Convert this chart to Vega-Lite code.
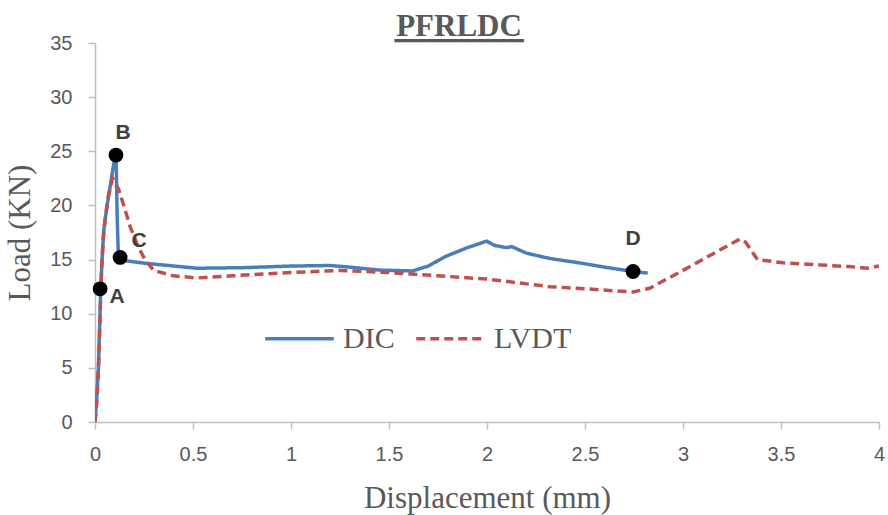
{
  "$schema": "https://vega.github.io/schema/vega-lite/v6.json",
  "autosize": {"type": "none"},
  "padding": {"left": 95, "top": 43, "right": 9, "bottom": 93},
  "width": 784,
  "height": 379,
  "background": "white",
  "title": {
    "text": "PFRLDC",
    "subtitle": "▁▁▁▁▁▁▁▁",
    "font": "Liberation Serif",
    "fontSize": 31,
    "fontWeight": "bold",
    "color": "#595959",
    "subtitleFont": "DejaVu Sans",
    "subtitleFontSize": 21,
    "subtitleColor": "#595959",
    "subtitlePadding": -23,
    "anchor": "middle",
    "frame": "group",
    "dx": -28,
    "offset": -10
  },
  "config": {
    "view": {"stroke": null},
    "axis": {
      "grid": false,
      "domainColor": "#bfbfbf",
      "domainWidth": 1.5,
      "tickColor": "#bfbfbf",
      "tickWidth": 1.5,
      "tickSize": 7,
      "labelFlush": false,
      "labelOverlap": false,
      "labelFont": "Liberation Sans",
      "labelFontSize": 20,
      "labelColor": "#595959",
      "titleFont": "Liberation Serif",
      "titleFontSize": 31,
      "titleFontWeight": "normal",
      "titleColor": "#595959"
    }
  },
  "datasets": {
    "curves": [
      {"series": "DIC", "x": 0, "y": 0},
      {"series": "DIC", "x": 0.008, "y": 2},
      {"series": "DIC", "x": 0.017, "y": 4.8},
      {"series": "DIC", "x": 0.024, "y": 9},
      {"series": "DIC", "x": 0.029, "y": 12.2},
      {"series": "DIC", "x": 0.036, "y": 15},
      {"series": "DIC", "x": 0.045, "y": 17.7},
      {"series": "DIC", "x": 0.06, "y": 19.8},
      {"series": "DIC", "x": 0.077, "y": 21.7},
      {"series": "DIC", "x": 0.095, "y": 23.8},
      {"series": "DIC", "x": 0.107, "y": 24.7},
      {"series": "DIC", "x": 0.109, "y": 23.3},
      {"series": "DIC", "x": 0.113, "y": 19},
      {"series": "DIC", "x": 0.118, "y": 16},
      {"series": "DIC", "x": 0.125, "y": 15.2},
      {"series": "DIC", "x": 0.15, "y": 14.9},
      {"series": "DIC", "x": 0.26, "y": 14.65},
      {"series": "DIC", "x": 0.52, "y": 14.2},
      {"series": "DIC", "x": 0.75, "y": 14.25},
      {"series": "DIC", "x": 1.0, "y": 14.4},
      {"series": "DIC", "x": 1.2, "y": 14.45},
      {"series": "DIC", "x": 1.3, "y": 14.3},
      {"series": "DIC", "x": 1.45, "y": 14.03},
      {"series": "DIC", "x": 1.62, "y": 13.95},
      {"series": "DIC", "x": 1.7, "y": 14.4},
      {"series": "DIC", "x": 1.79, "y": 15.3},
      {"series": "DIC", "x": 1.9, "y": 16.1},
      {"series": "DIC", "x": 1.998, "y": 16.7},
      {"series": "DIC", "x": 2.04, "y": 16.3},
      {"series": "DIC", "x": 2.1, "y": 16.1},
      {"series": "DIC", "x": 2.126, "y": 16.2},
      {"series": "DIC", "x": 2.2, "y": 15.6},
      {"series": "DIC", "x": 2.32, "y": 15.1},
      {"series": "DIC", "x": 2.47, "y": 14.7},
      {"series": "DIC", "x": 2.6, "y": 14.3},
      {"series": "DIC", "x": 2.745, "y": 13.9},
      {"series": "DIC", "x": 2.82, "y": 13.75},
      {"series": "LVDT", "x": 0, "y": 0},
      {"series": "LVDT", "x": 0.01, "y": 2},
      {"series": "LVDT", "x": 0.02, "y": 6},
      {"series": "LVDT", "x": 0.026, "y": 10},
      {"series": "LVDT", "x": 0.034, "y": 14.3},
      {"series": "LVDT", "x": 0.045, "y": 17.7},
      {"series": "LVDT", "x": 0.067, "y": 20.8},
      {"series": "LVDT", "x": 0.09, "y": 22.5},
      {"series": "LVDT", "x": 0.12, "y": 21.5},
      {"series": "LVDT", "x": 0.15, "y": 19.8},
      {"series": "LVDT", "x": 0.18, "y": 18},
      {"series": "LVDT", "x": 0.22, "y": 16.2},
      {"series": "LVDT", "x": 0.255, "y": 15},
      {"series": "LVDT", "x": 0.3, "y": 14.0},
      {"series": "LVDT", "x": 0.4, "y": 13.5},
      {"series": "LVDT", "x": 0.52, "y": 13.3},
      {"series": "LVDT", "x": 0.7, "y": 13.5},
      {"series": "LVDT", "x": 1.0, "y": 13.8},
      {"series": "LVDT", "x": 1.25, "y": 14.0},
      {"series": "LVDT", "x": 1.5, "y": 13.8},
      {"series": "LVDT", "x": 1.75, "y": 13.5},
      {"series": "LVDT", "x": 2.0, "y": 13.2},
      {"series": "LVDT", "x": 2.32, "y": 12.5},
      {"series": "LVDT", "x": 2.5, "y": 12.3},
      {"series": "LVDT", "x": 2.745, "y": 12.0},
      {"series": "LVDT", "x": 2.83, "y": 12.35},
      {"series": "LVDT", "x": 3.0, "y": 14.0},
      {"series": "LVDT", "x": 3.17, "y": 15.7},
      {"series": "LVDT", "x": 3.29, "y": 16.9},
      {"series": "LVDT", "x": 3.32, "y": 16.6},
      {"series": "LVDT", "x": 3.38, "y": 15.0},
      {"series": "LVDT", "x": 3.51, "y": 14.7},
      {"series": "LVDT", "x": 3.7, "y": 14.5},
      {"series": "LVDT", "x": 3.85, "y": 14.35},
      {"series": "LVDT", "x": 3.94, "y": 14.2},
      {"series": "LVDT", "x": 4.0, "y": 14.4}
    ],
    "points": [
      {"label": "A", "x": 0.026, "y": 12.3},
      {"label": "B", "x": 0.107, "y": 24.65},
      {"label": "C", "x": 0.128, "y": 15.2},
      {"label": "D", "x": 2.745, "y": 13.9}
    ]
  },
  "layer": [
    {
      "data": {"name": "curves"},
      "mark": {"type": "line", "strokeWidth": 3.5, "clip": true},
      "encoding": {
        "x": {
          "field": "x", "type": "quantitative",
          "scale": {"domain": [0, 4], "nice": false},
          "axis": {"values": [0, 0.5, 1, 1.5, 2, 2.5, 3, 3.5, 4], "format": "~g", "labelPadding": 15, "title": "Displacement (mm)", "titlePadding": 19}
        },
        "y": {
          "field": "y", "type": "quantitative",
          "scale": {"domain": [0, 35], "nice": false},
          "axis": {"values": [0, 5, 10, 15, 20, 25, 30, 35], "labelPadding": 16, "title": "Load (KN)", "titlePadding": 13}
        },
        "color": {
          "field": "series", "type": "nominal",
          "scale": {"domain": ["DIC", "LVDT"], "range": ["#4a7ebb", "#c0504d"]},
          "legend": {
            "title": null,
            "orient": "none",
            "direction": "horizontal",
            "legendX": 168,
            "legendY": 259,
            "symbolType": "stroke",
            "symbolSize": 4700,
            "symbolStrokeWidth": 3.5,
            "labelFont": "Liberation Serif",
            "labelFontSize": 30,
            "labelColor": "#595959",
            "labelOffset": 7,
            "columnPadding": 14
          }
        },
        "strokeDash": {
          "field": "series", "type": "nominal",
          "scale": {"domain": ["DIC", "LVDT"], "range": [[1, 0], [9, 5]]},
          "legend": null
        }
      }
    },
    {
      "data": {"name": "points"},
      "mark": {"type": "circle", "size": 220, "color": "black", "opacity": 1},
      "encoding": {
        "x": {"field": "x", "type": "quantitative"},
        "y": {"field": "y", "type": "quantitative"}
      }
    },
    {
      "data": {"name": "points"},
      "transform": [{"filter": "datum.label == 'A'"}],
      "mark": {"type": "text", "font": "Liberation Sans", "fontSize": 21, "fontWeight": "bold", "color": "#404040", "dx": 17, "dy": 8},
      "encoding": {
        "x": {"field": "x", "type": "quantitative"},
        "y": {"field": "y", "type": "quantitative"},
        "text": {"field": "label"}
      }
    },
    {
      "data": {"name": "points"},
      "transform": [{"filter": "datum.label == 'B'"}],
      "mark": {"type": "text", "font": "Liberation Sans", "fontSize": 21, "fontWeight": "bold", "color": "#404040", "dx": 7, "dy": -22},
      "encoding": {
        "x": {"field": "x", "type": "quantitative"},
        "y": {"field": "y", "type": "quantitative"},
        "text": {"field": "label"}
      }
    },
    {
      "data": {"name": "points"},
      "transform": [{"filter": "datum.label == 'C'"}],
      "mark": {"type": "text", "font": "Liberation Sans", "fontSize": 21, "fontWeight": "bold", "color": "#404040", "dx": 19, "dy": -16},
      "encoding": {
        "x": {"field": "x", "type": "quantitative"},
        "y": {"field": "y", "type": "quantitative"},
        "text": {"field": "label"}
      }
    },
    {
      "data": {"name": "points"},
      "transform": [{"filter": "datum.label == 'D'"}],
      "mark": {"type": "text", "font": "Liberation Sans", "fontSize": 21, "fontWeight": "bold", "color": "#404040", "dx": 0, "dy": -32},
      "encoding": {
        "x": {"field": "x", "type": "quantitative"},
        "y": {"field": "y", "type": "quantitative"},
        "text": {"field": "label"}
      }
    }
  ]
}
